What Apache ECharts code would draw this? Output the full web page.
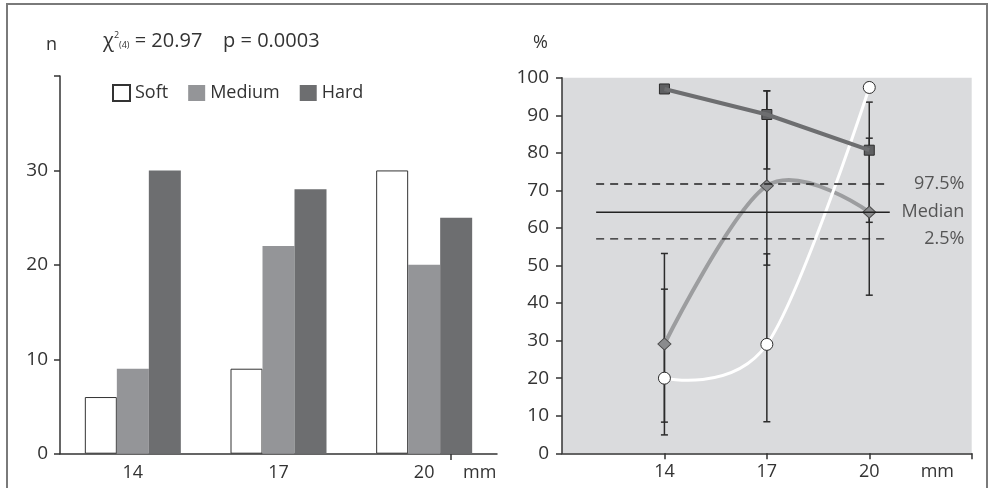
<!DOCTYPE html>
<html><head><meta charset="utf-8">
<script src="https://cdn.jsdelivr.net/npm/echarts@6/dist/echarts.min.js"></script>
<style>html,body{margin:0;padding:0;background:#fff}#c{width:991px;height:488px}</style>
</head><body><div id="c"></div>
<script>
// ---- left panel: counts ----
const categories = ['14', '17', '20'];
const softCounts = [6, 9, 30];
const mediumCounts = [9, 22, 20];
const hardCounts = [30, 28, 25];
const countTicksShown = [0, 10, 20, 30];

// ---- right panel: percentages ----
const diameters = [14, 17, 20];
const softPct = [20.0, 29.0, 97.4];
const mediumPct = [29.1, 71.2, 64.2];
const hardPct = [97.0, 90.2, 80.7];
const softLow = [4.9, 8.4, null];
const softHigh = [43.7, 53.1, null];
const mediumLow = [8.3, 50.1, 42.1];
const mediumHigh = [53.2, 96.5, 83.9];
const hardLow = [null, 75.7, 61.5];
const hardHigh = [null, 96.5, 93.5];
const refNames = ['97.5%', 'Median', '2.5%'];
const refValues = [71.7, 64.2, 57.1];
const refFrom = 12;
const refTo = 20.6;
const refLabelX = 22.8;
const pctTickLabels = [14, 17, 20];
const pctTicks = [14, 17, 20, 23];

const FONT = 'Open Sans';
const TXT = '#333';
const C_MED = '#949598';
const C_HARD = '#6d6e70';

function errSeries(name, low, high) {
  const data = [];
  diameters.forEach((x, i) => { if (low[i] != null) data.push([x, low[i], high[i]]); });
  return {
    name: name, type: 'custom', xAxisIndex: 1, yAxisIndex: 1, silent: true,
    data: data, encode: { x: 0, y: [1, 2] },
    renderItem: function (params, api) {
      const x = api.value(0), lo = api.value(1), hi = api.value(2);
      const a = api.coord([x, lo]), b = api.coord([x, hi]);
      const w = 3.5;
      const st = { stroke: '#2b2b2b', lineWidth: 1.5 };
      return { type: 'group', children: [
        { type: 'line', shape: { x1: a[0], y1: a[1], x2: b[0], y2: b[1] }, style: st },
        { type: 'line', shape: { x1: a[0] - w, y1: a[1], x2: a[0] + w, y2: a[1] }, style: st },
        { type: 'line', shape: { x1: b[0] - w, y1: b[1], x2: b[0] + w, y2: b[1] }, style: st }
      ] };
    }
  };
}

// smooth curve (cardinal-type spline) through the data points, mapped via the axes
function curveSeries(name, vals, color, width) {
  const data = [];
  for (let i = 0; i < diameters.length - 1; i++) data.push([diameters[i], vals[i], diameters[i + 1], vals[i + 1]]);
  return {
    name: name, type: 'custom', xAxisIndex: 1, yAxisIndex: 1, silent: true,
    data: data, encode: { x: [0, 2], y: [1, 3] },
    renderItem: function (params, api) {
      const i = params.dataIndex;
      const P = diameters.map((x, j) => api.coord([x, vals[j]]));
      const p1 = P[i], p2 = P[i + 1];
      const p0 = P[i - 1], p3 = P[i + 2];
      let c1 = p1, c2 = p2;
      if (p0) c1 = [p1[0] + (p2[0] - p0[0]) / 6, p1[1] + (p2[1] - p0[1]) / 6];
      if (p3) c2 = [p2[0] - (p3[0] - p1[0]) / 6, p2[1] - (p3[1] - p1[1]) / 6];
      return {
        type: 'bezierCurve',
        shape: { x1: p1[0], y1: p1[1], x2: p2[0], y2: p2[1], cpx1: c1[0], cpy1: c1[1], cpx2: c2[0], cpy2: c2[1] },
        style: { stroke: color, lineWidth: width, fill: null, lineCap: 'round' }
      };
    }
  };
}

function markerSeries(name, vals, symbol, size, fill, border) {
  return {
    name: name, type: 'scatter', xAxisIndex: 1, yAxisIndex: 1, silent: true,
    data: diameters.map((x, i) => [x, vals[i]]),
    symbol: symbol, symbolSize: size,
    itemStyle: { color: fill, borderColor: border, borderWidth: 1, opacity: 1 }
  };
}

function refSeries(i) {
  return {
    name: refNames[i], type: 'line', xAxisIndex: 1, yAxisIndex: 1, silent: true,
    symbol: 'none',
    data: [[refFrom, refValues[i]], [refTo, refValues[i]]],
    lineStyle: i === 1 ? { color: '#222', width: 1.5, type: 'solid' }
                       : { color: '#222', width: 1.3, type: [8, 6] }
  };
}

const chart = echarts.init(document.getElementById('c'));
chart.setOption({
  animation: false,
  backgroundColor: '#fff',
  textStyle: { fontFamily: FONT },
  title: {
    left: 103, top: 31, padding: 0,
    text: '{c|χ}{sup|2}{sub|(4)}{t| = 20.97    p = 0.0003}',
    textStyle: {
      fontWeight: 'normal',
      rich: {
        c: { fontFamily: FONT, fontSize: 20, color: TXT, fontWeight: 'normal' },
        sup: { fontFamily: FONT, fontSize: 9, color: TXT, fontWeight: 'normal', padding: [0, 0, 12, 0] },
        sub: { fontFamily: FONT, fontSize: 9, color: TXT, fontWeight: 'normal', padding: [8, 0, 0, 0] },
        t: { fontFamily: FONT, fontSize: 20, color: TXT, fontWeight: 'normal' }
      }
    }
  },
  legend: {
    data: ['Soft', 'Medium', 'Hard'],
    left: 112, top: 84, padding: 0,
    icon: 'rect', itemWidth: 17, itemHeight: 16, itemGap: 20, itemTextGap: 3,
    selectedMode: false,
    textStyle: { fontFamily: FONT, fontSize: 18, color: TXT }
  },
  grid: [
    { left: 60, top: 76, width: 437, height: 377.7, containLabel: false },
    { left: 562, top: 77.7, width: 409.7, height: 375.6, containLabel: false,
      show: true, backgroundColor: '#dadbdd', borderWidth: 0 }
  ],
  xAxis: [
    {
      gridIndex: 0, type: 'category', data: categories,
      axisLine: { lineStyle: { color: '#333', width: 1.5 } },
      axisTick: { show: false },
      axisLabel: { margin: 10, fontSize: 18, color: TXT, fontFamily: FONT },
      name: 'mm', nameLocation: 'end', nameGap: -34,
      nameTextStyle: { fontSize: 18, color: TXT, fontFamily: FONT, align: 'left', verticalAlign: 'top', padding: [10, 0, 0, 0] }
    },
    {
      gridIndex: 1, type: 'value', min: 11, max: 23, interval: 3,
      axisLine: { lineStyle: { color: '#333', width: 1.5 } },
      axisTick: { show: true, length: 6, customValues: pctTicks, lineStyle: { color: '#333', width: 1.5 } },
      axisLabel: { margin: 10, fontSize: 18, color: TXT, fontFamily: FONT, customValues: pctTickLabels },
      splitLine: { show: false },
      name: 'mm', nameLocation: 'end', nameGap: -51,
      nameTextStyle: { fontSize: 18, color: TXT, fontFamily: FONT, align: 'left', verticalAlign: 'top', padding: [10, 0, 0, 0] }
    }
  ],
  yAxis: [
    {
      gridIndex: 0, type: 'value', min: 0, max: 40, interval: 10,
      axisLine: { show: true, lineStyle: { color: '#333', width: 1.5 } },
      axisTick: { show: true, length: 6, lineStyle: { color: '#333', width: 1.5 } },
      axisLabel: { margin: 12, fontSize: 19, color: TXT, fontFamily: FONT,
        formatter: v => countTicksShown.indexOf(v) >= 0 ? String(v) : '' },
      splitLine: { show: false },
      name: 'n', nameLocation: 'end', nameGap: 31,
      nameTextStyle: { fontSize: 18, color: TXT, fontFamily: FONT, align: 'right', verticalAlign: 'middle', padding: [0, 3, 0, 0] }
    },
    {
      gridIndex: 1, type: 'value', min: 0, max: 100, interval: 10,
      axisLine: { show: true, lineStyle: { color: '#333', width: 1.5 } },
      axisTick: { show: true, length: 6, lineStyle: { color: '#333', width: 1.5 } },
      axisLabel: { margin: 13, fontSize: 19, color: TXT, fontFamily: FONT },
      splitLine: { show: false },
      name: '%', nameLocation: 'end', nameGap: 35,
      nameTextStyle: { fontSize: 18, color: TXT, fontFamily: FONT, align: 'right', verticalAlign: 'middle', padding: [0, 14, 0, 0] }
    }
  ],
  series: [
    { name: 'Soft', type: 'bar', xAxisIndex: 0, yAxisIndex: 0, data: softCounts, barWidth: 32, barGap: '0%',
      itemStyle: { color: '#fff', borderColor: '#333', borderWidth: 1 } },
    { name: 'Medium', type: 'bar', xAxisIndex: 0, yAxisIndex: 0, data: mediumCounts, barWidth: 32, barGap: '0%',
      itemStyle: { color: C_MED } },
    { name: 'Hard', type: 'bar', xAxisIndex: 0, yAxisIndex: 0, data: hardCounts, barWidth: 32, barGap: '0%',
      itemStyle: { color: C_HARD } },

    refSeries(0), refSeries(1), refSeries(2),
    {
      name: 'refLabels', type: 'scatter', xAxisIndex: 1, yAxisIndex: 1, silent: true,
      symbolSize: 1, itemStyle: { color: 'rgba(0,0,0,0)' },
      data: refNames.map((n, i) => ({ value: [refLabelX, refValues[i]], name: n })),
      label: { show: true, position: 'left', distance: 0, formatter: p => p.name,
        fontSize: 18, color: TXT, fontFamily: FONT }
    },

    errSeries('errSoft', softLow, softHigh),
    errSeries('errMedium', mediumLow, mediumHigh),
    errSeries('errHard', hardLow, hardHigh),

    { name: 'Hard %', type: 'line', xAxisIndex: 1, yAxisIndex: 1, silent: true,
      data: diameters.map((x, i) => [x, hardPct[i]]),
      lineStyle: { color: C_HARD, width: 4 }, symbol: 'none' },
    curveSeries('Medium %', mediumPct, '#9c9d9f', 4),
    curveSeries('Soft %', softPct, '#ffffff', 3),

    markerSeries('Hard pts', hardPct, 'rect', 10, '#5f6062', '#2b2b2b'),
    markerSeries('Medium pts', mediumPct, 'diamond', [13, 12], '#8a8b8d', '#4a4a4a'),
    markerSeries('Soft pts', softPct, 'circle', 12, '#ffffff', '#2b2b2b')
  ],
  graphic: [
    { type: 'rect', silent: true, z: 100,
      shape: { x: 7, y: 4, width: 980, height: 520 },
      style: { fill: 'none', stroke: '#7a7a7a', lineWidth: 2 } },
    { type: 'line', silent: true, z: 100,
      shape: { x1: 451, y1: 454, x2: 451, y2: 460 },
      style: { stroke: '#333', lineWidth: 1.5 } }
  ]
});
</script>
</body></html>
